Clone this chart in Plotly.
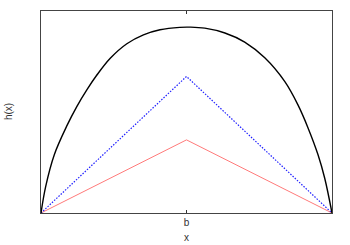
import plotly.graph_objects as go

# black curve h(x)
hx = [0.0, 0.016, 0.046, 0.090, 0.123, 0.158, 0.192, 0.238, 0.295, 0.352, 0.409,
      0.477, 0.512, 0.563, 0.632, 0.700, 0.769, 0.838, 0.883, 0.918, 0.952, 0.975, 1.0]
hy = [0.0, 0.131, 0.290, 0.435, 0.527, 0.611, 0.683, 0.766, 0.838, 0.882, 0.907,
      0.919, 0.920, 0.915, 0.891, 0.846, 0.768, 0.650, 0.535, 0.420, 0.288, 0.172, 0.0]

# blue dotted triangle
bx = [0.0, 0.5, 1.0]
by = [0.0, 0.676, 0.0]

# red triangle
rx = [0.0, 0.5, 1.0]
ry = [0.0, 0.362, 0.0]

tick_vals = [0.5]
tick_text = ["b"]

fig = go.Figure()
fig.add_trace(go.Scatter(x=rx, y=ry, mode="lines",
                         line=dict(color="#ff7a7a", width=1)))
fig.add_trace(go.Scatter(x=bx, y=by, mode="lines",
                         line=dict(color="#2020ff", width=1.2, dash="1.5px,1.5px")))
fig.add_trace(go.Scatter(x=hx, y=hy, mode="lines", line_shape="spline",
                         line=dict(color="black", width=1.4, smoothing=1.0)))

fig.update_layout(
    width=350, height=245,
    margin=dict(l=41, r=18, t=11, b=32),
    paper_bgcolor="white", plot_bgcolor="white",
    showlegend=False,
    font=dict(family="Liberation Sans, Arial, sans-serif", size=10, color="#333"),
    xaxis=dict(range=[0, 1], tickvals=tick_vals, ticktext=tick_text,
               ticks="inside", ticklen=3, tickcolor="#333",
               showline=True, linecolor="#444", linewidth=1, mirror="ticks",
               showgrid=False, zeroline=False, fixedrange=True,
               tickfont=dict(size=10, color="#333")),
    yaxis=dict(range=[0, 1], showticklabels=False, ticks="",
               showline=True, linecolor="#444", linewidth=1, mirror=True,
               showgrid=False, zeroline=False, fixedrange=True),
    annotations=[
        dict(text="x", xref="paper", yref="paper", x=0.5, y=-0.119,
             yanchor="middle", showarrow=False, font=dict(size=10, color="#333")),
        dict(text="h(x)", xref="paper", yref="paper", x=-0.113, y=0.5,
             textangle=-90, xanchor="center", yanchor="middle",
             showarrow=False, font=dict(size=10, color="#333")),
    ],
)

fig.write_html("out.html", config={"displayModeBar": False},
               post_script="document.body.style.margin='0';")
